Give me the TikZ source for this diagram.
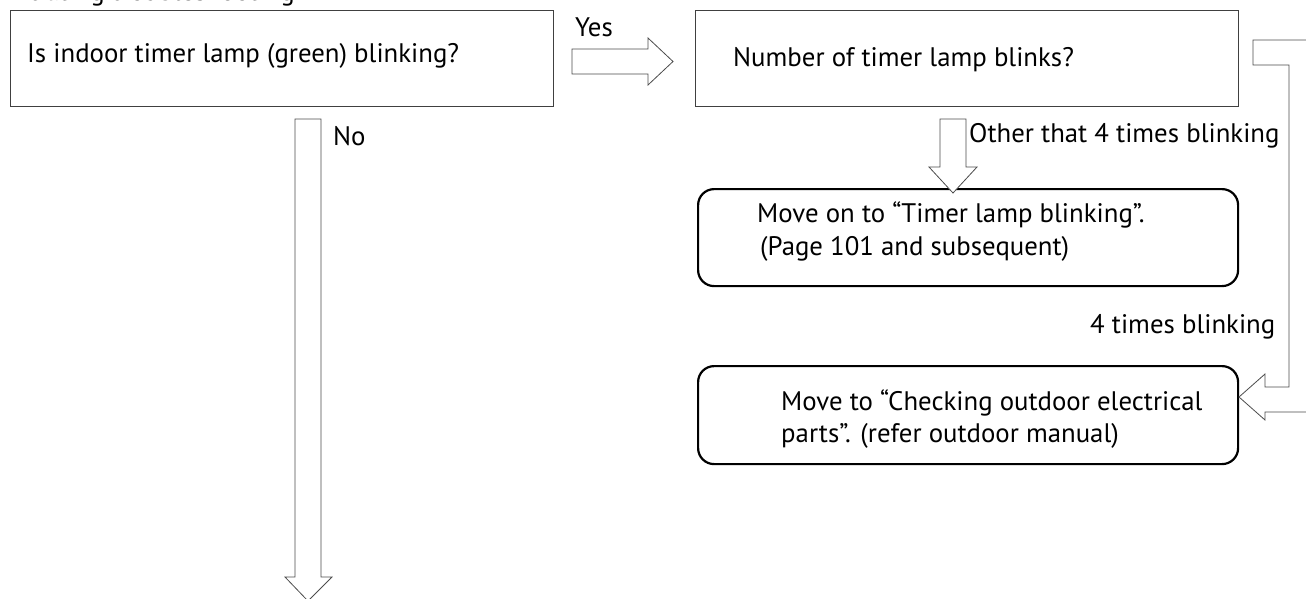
\documentclass[tikz,border=0pt]{standalone}
\usepackage{fontspec}
\setmainfont{PT Sans}
\begin{document}
\begin{tikzpicture}[x=1pt,y=-1pt,
  sqbox/.style={draw=black!75, line width=0.8pt, minimum width=543pt, minimum height=96pt, anchor=north west, inner sep=0pt},
  rbox/.style={draw=black, line width=2.2pt, rounded corners=16pt, anchor=north west, inner sep=0pt},
  txt/.style={inner sep=0pt, anchor=base west, font=\fontsize{26.8}{30}\selectfont},
  barrow/.style={draw=black!70, line width=0.8pt, fill=white, line join=miter}]
\useasboundingbox (0,0) rectangle (1306,598);
\clip (0,0) rectangle (1306,598);
% title (cut off)
\node[txt] (title) at (0,0.5) {Initiating troubleshooting};
% boxes
\node[sqbox] (b1) at (10,10) {};
\node[sqbox] (b2) at (695,10) {};
\node[rbox, minimum width=540pt, minimum height=97pt] (b3) at (697,188) {};
\node[rbox, minimum width=540pt, minimum height=98pt] (b4) at (697,365) {};
% box texts
\node[txt] (t1) at (27,62) {Is indoor timer lamp (green) blinking?};
\node[txt] (t2) at (733,66) {Number of timer lamp blinks?};
\node[txt] (t3a) at (757,222) {Move on to “Timer lamp blinking”.};
\node[txt] (t3b) at (760,255) {(Page 101 and subsequent)};
\node[txt] (t4a) at (781,410) {Move to “Checking outdoor electrical};
\node[txt] (t4b) at (781,442) {parts”. (refer outdoor manual)};
% block arrows
\draw[barrow] (572,49) -- (648,49) -- (648,38) -- (673,61.5) -- (648,85) -- (648,74) -- (572,74) -- cycle;
\draw[barrow] (295,119) -- (321,119) -- (321,577) -- (332,577) -- (308,601) -- (285,577) -- (295,577) -- cycle;
\draw[barrow] (940,119) -- (966,119) -- (966,167) -- (977,167) -- (953,193) -- (929,167) -- (940,167) -- cycle;
\draw[barrow] (1253,40) -- (1314,40) -- (1314,412) -- (1265,412) -- (1265,420) -- (1239,397) -- (1265,374) -- (1265,387) -- (1289,387) -- (1289,65) -- (1253,65) -- cycle;
% labels
\node[txt] (yes) at (575,36) {Yes};
\node[txt] (no) at (333,145) {No};
\node[txt] (other) at (969,142) {Other that 4 times blinking};
\node[txt] (four) at (1090,333) {4 times blinking};
\end{tikzpicture}
\end{document}
